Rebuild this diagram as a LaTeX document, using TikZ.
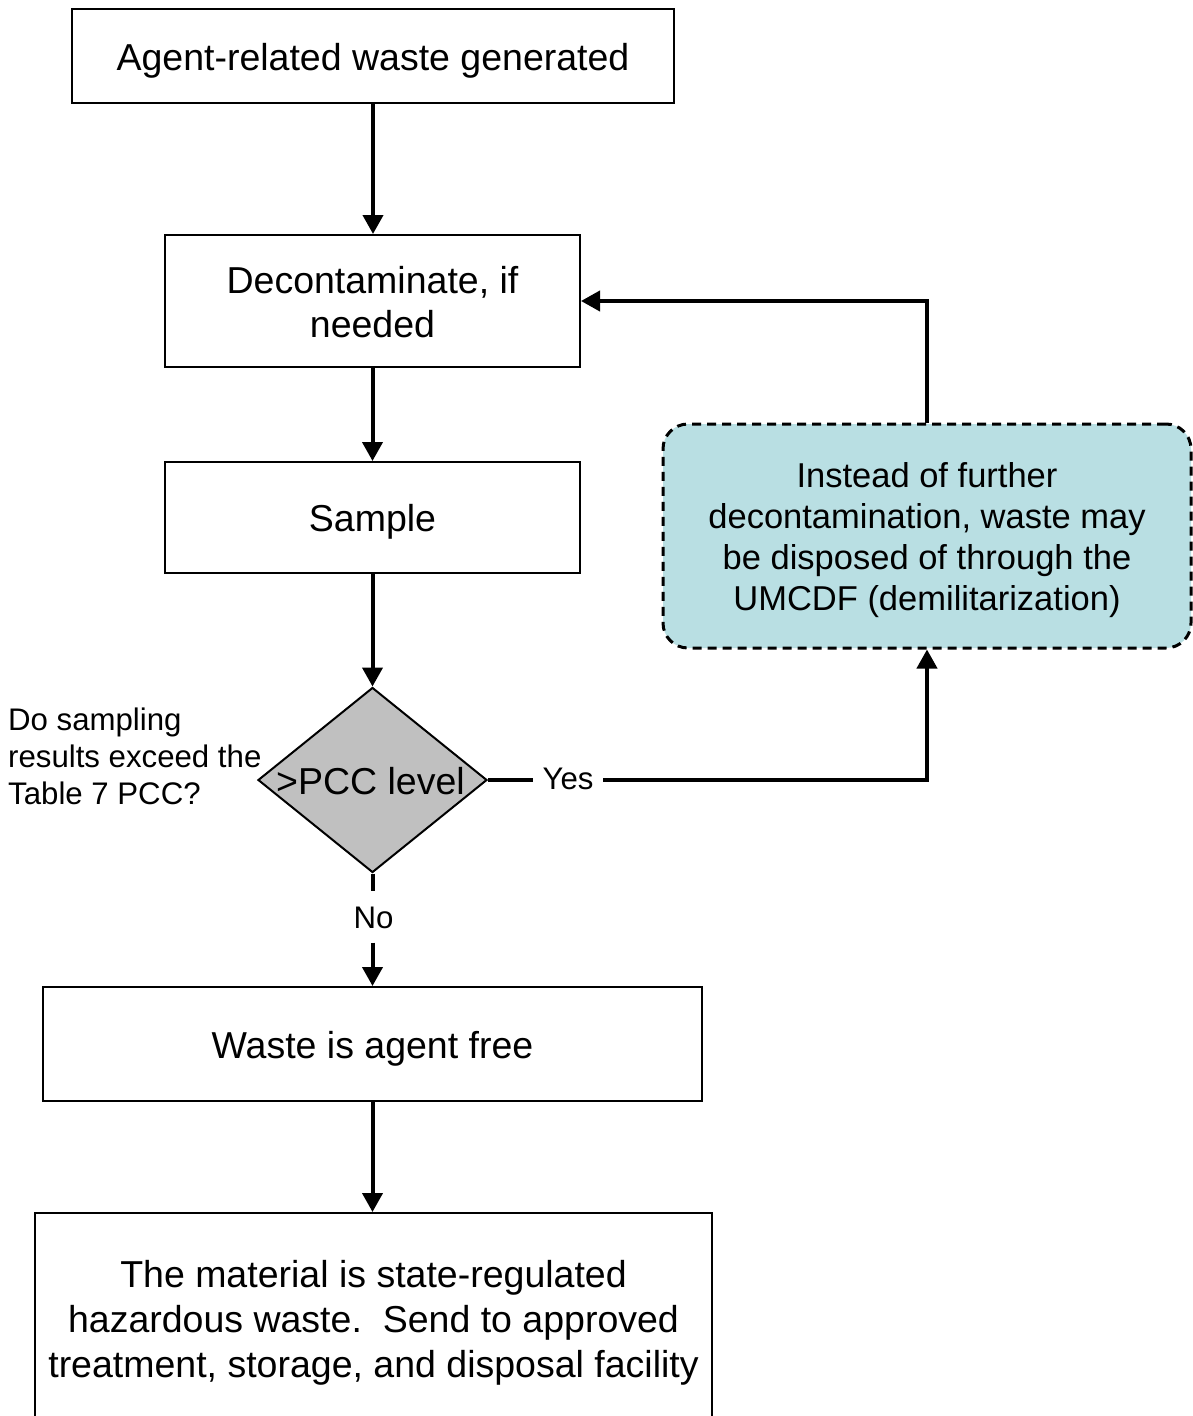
\documentclass[tikz,border=0pt]{standalone}
\usepackage{fontspec}
\setmainfont{Liberation Sans}
\usetikzlibrary{arrows.meta,shapes.geometric,calc}
\definecolor{tealfill}{HTML}{B9DFE3}
\definecolor{dgray}{HTML}{C0C0C0}
\frenchspacing
\begin{document}
\begin{tikzpicture}[x=1pt,y=-1pt,
  box/.style={draw, line width=2pt, inner sep=0pt, font=\fontsize{37.5}{45}\selectfont},
  oneline/.style={text height=28.8pt, text depth=0pt},
  arr/.style={line width=4pt, -{Triangle[length=19pt,width=20pt]}},
  ln/.style={line width=4pt},
  small/.style={inner sep=0pt, font=\fontsize{31.2}{37}\selectfont}]
\clip (0,0) rectangle (1193,1416);
\useasboundingbox (0,0) rectangle (1193,1416);
\fill[white] (0,0) rectangle (1193,1416);

\node[box, oneline, minimum width=602pt, minimum height=94pt] (gen) at (373,56) {Agent-related waste generated};
\node[box, font=\fontsize{37.5}{44}\selectfont, text height=0pt, text depth=15.2pt, minimum width=415pt, minimum height=132pt] (decon) at (372.5,301)
  {\begin{tabular}[t]{@{}c@{}}Decontaminate, if\\needed\end{tabular}};
\node[box, oneline, minimum width=415pt, minimum height=111pt] (sample) at (372.5,517.5) {Sample};
\node[diamond, draw, line width=2pt, fill=dgray, minimum width=229pt, minimum height=185pt, inner sep=0pt] (pcc) at (372.5,780) {};
\node[inner sep=0pt, oneline, font=\fontsize{37.5}{45}\selectfont] (pcctext) at (370.5,780) {>PCC level};
\node[small, text height=22pt, text depth=0pt, minimum width=70pt] (yes) at (568,778) {Yes};
\node[small, text height=22pt, text depth=0pt, minimum height=51pt] (no) at (373.5,917) {No};
\node[box, oneline, minimum width=659pt, minimum height=114pt] (free) at (372.5,1044) {Waste is agent free};
\node[box, text height=0pt, text depth=66pt, minimum width=677pt, minimum height=214pt] (haz) at (373.5,1320)
  {\begin{tabular}[t]{@{}c@{}}The material is state-regulated\\hazardous waste.~ Send to approved\\treatment, storage, and disposal facility\end{tabular}};
\node[draw, line width=3pt, dash pattern=on 9pt off 6pt, rounded corners=25pt, fill=tealfill,
      minimum width=528pt, minimum height=224pt, inner sep=0pt,
      text height=0pt, text depth=96.3pt,
      font=\fontsize{34.5}{41}\selectfont] (alt) at (927,536)
  {\begin{tabular}[t]{@{}c@{}}Instead of further\\decontamination, waste may\\be disposed of through the\\UMCDF (demilitarization)\end{tabular}};
\node[small, anchor=west, align=left] (q) at (8,756) {Do sampling\\results exceed the\\Table 7 PCC?};

\draw[arr] (gen.south) -- (gen.south |- decon.north);
\draw[arr] (decon.south) -- (decon.south |- sample.north);
\draw[arr] (sample.south) -- (sample.south |- pcc.north);
\draw[ln] (pcc.south) -- (pcc.south |- no.north);
\draw[arr] (pcc.south |- no.south) -- (pcc.south |- free.north);
\draw[ln] (pcc.east) -- (pcc.east -| yes.west);
\draw[arr] (pcc.east -| yes.east) -| (alt.south);
\draw[arr] (alt.north) |- (decon.east);
\draw[arr] (free.south) -- (free.south |- haz.north);
\end{tikzpicture}
\end{document}
